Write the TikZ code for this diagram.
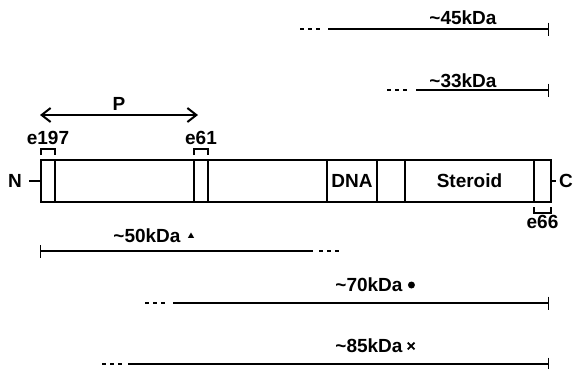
\documentclass[tikz,border=0pt]{standalone}
\usepackage{fontspec}
\setmainfont{Liberation Sans}
\usepackage{tikz}
\usetikzlibrary{positioning, arrows.meta, shapes.geometric, shapes.misc}

\begin{document}
\begin{tikzpicture}[x=1pt,y=-1pt,
    font=\bfseries\fontsize{19}{21}\selectfont,
    seg/.style={draw,line width=1.4pt,minimum height=42pt,inner sep=0pt,outer sep=0pt},
    lbl/.style={inner sep=0pt},
    brk/.style={line width=1.3pt},
    frag/.style={line width=1.2pt},
    gap/.style={line width=1.2pt,dash pattern=on 4pt off 4pt},
    endbar/.style={-{Bar[width=13pt,line width=1.2pt]}},
    startbar/.style={{Bar[width=13pt,line width=1.2pt]}-},
    tri/.style={regular polygon,regular polygon sides=3,fill,inner sep=0pt,minimum size=7pt},
    dot/.style={circle,fill,inner sep=0pt,minimum size=7pt},
    xmark/.style={cross out,draw,line width=1.8pt,inner sep=0pt,minimum size=5pt}]
    \useasboundingbox (0,0) rectangle (574,368);

    % domains
    \node[seg,minimum width=14pt,anchor=west] (s1) at (41,181) {};
    \node[seg,minimum width=139pt,right=0pt of s1] (s2) {};
    \node[seg,minimum width=14pt,right=0pt of s2] (s3) {};
    \node[seg,minimum width=119pt,right=0pt of s3] (s4) {};
    \node[seg,minimum width=50pt,right=0pt of s4] (dna) {DNA};
    \node[seg,minimum width=28pt,right=0pt of dna] (s6) {};
    \node[seg,minimum width=129pt,right=0pt of s6] (steroid) {Steroid};
    \node[seg,minimum width=17pt,right=0pt of steroid] (s8) {};

    \node[lbl] (nterm) at (15,181) {N};
    \node[lbl] (cterm) at (566,181) {C};
    \draw[brk,shorten <=7pt] (nterm) -- (s1);
    \draw[brk,shorten >=3pt] (s8) -- (cterm);

    % epitopes
    \draw[brk] ([yshift=5pt]s1.north west) -- ++(0,-6) -| ([yshift=5pt]s1.north east);
    \draw[brk] ([yshift=5pt]s3.north west) -- ++(0,-6) -| ([yshift=5pt]s3.north east);
    \draw[brk] ([yshift=-5pt]s8.south west) -- ++(0,6) -| ([yshift=-5pt]s8.south east);
    \node[lbl,above=15pt of s1] (e197) {e197};
    \node[lbl,above=15pt of s3] (e61) {e61};
    \node[lbl,below=13pt of s8] (e66) {e66};

    \coordinate (pl) at (40,115);
    \coordinate (pr) at (198,115);
    \draw[{Straight Barb[length=9pt,width=14pt]}-{Straight Barb[length=9pt,width=14pt]},line width=2pt]
        (pl) -- node[lbl,above=4pt] (plbl) {P} (pr);

    % fragments
    \coordinate (a45) at (300,29);  \coordinate (b45) at (322,29);
    \coordinate (c45) at (328,29);  \coordinate (d45) at (549,29);
    \draw[gap] (a45) -- (b45);
    \draw[frag,endbar] (c45) -- (d45);
    \node[lbl] (k45) at (463,18) {\textasciitilde45kDa};

    \coordinate (a33) at (387,90);  \coordinate (b33) at (409,90);
    \coordinate (c33) at (416,90);  \coordinate (d33) at (549,90);
    \draw[gap] (a33) -- (b33);
    \draw[frag,endbar] (c33) -- (d33);
    \node[lbl] (k33) at (463,81) {\textasciitilde33kDa};

    \coordinate (a50) at (40,251);  \coordinate (b50) at (313,251);
    \coordinate (c50) at (319,251); \coordinate (d50) at (341,251);
    \draw[frag,startbar] (a50) -- (b50);
    \draw[gap] (c50) -- (d50);
    \node[lbl] (k50) at (147,236) {\textasciitilde50kDa};
    \node[tri,right=8pt of k50] (m50) {};

    \coordinate (a70) at (145,303); \coordinate (b70) at (167,303);
    \coordinate (c70) at (173,303); \coordinate (d70) at (549,303);
    \draw[gap] (a70) -- (b70);
    \draw[frag,endbar] (c70) -- (d70);
    \node[lbl] (k70) at (369,285) {\textasciitilde70kDa};
    \node[dot,right=5pt of k70] (m70) {};

    \coordinate (a85) at (102,364); \coordinate (b85) at (124,364);
    \coordinate (c85) at (128,364); \coordinate (d85) at (549,364);
    \draw[gap] (a85) -- (b85);
    \draw[frag,endbar] (c85) -- (d85);
    \node[lbl] (k85) at (369,346) {\textasciitilde85kDa};
    \node[xmark,right=5pt of k85] (m85) {};
\end{tikzpicture}
\end{document}
